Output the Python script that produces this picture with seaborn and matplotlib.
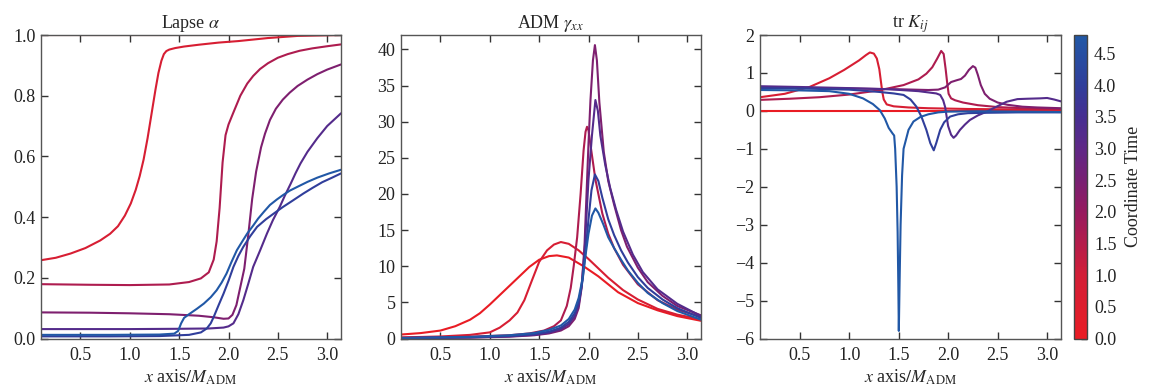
import numpy as np
import pandas as pd
import matplotlib
matplotlib.use("Agg")
import matplotlib.pyplot as plt
from matplotlib.colors import LinearSegmentedColormap, Normalize
import seaborn as sns

# ---------------- data ----------------
times = [0.0, 0.8, 1.6, 2.4, 3.2, 4.0, 4.8]

# Lapse alpha
lapse_x = [
    [0.1, 1.0, 2.0, 3.14],
    [0.1, 0.25, 0.4, 0.55, 0.7, 0.8, 0.88, 0.95, 1.01, 1.06, 1.1, 1.14, 1.18, 1.22, 1.26, 1.29, 1.32, 1.345, 1.37, 1.4, 1.46, 1.55, 1.7, 1.9, 2.1, 2.4, 2.7, 3.14],
    [0.1, 0.6, 1.0, 1.4, 1.6, 1.72, 1.8, 1.85, 1.88, 1.91, 1.94, 1.97, 2.0, 2.05, 2.12, 2.19, 2.25, 2.32, 2.4, 2.5, 2.6, 2.72, 2.85, 3.0, 3.14],
    [0.1, 0.6, 1.0, 1.4, 1.7, 1.85, 1.95, 2.0, 2.04, 2.08, 2.12, 2.16, 2.2, 2.24, 2.28, 2.33, 2.37, 2.42, 2.48, 2.55, 2.62, 2.7, 2.8, 2.9, 3.0, 3.14],
    [0.1, 0.6, 1.0, 1.5, 1.8, 1.95, 2.0, 2.05, 2.1, 2.15, 2.2, 2.25, 2.32, 2.39, 2.45, 2.52, 2.57, 2.63, 2.68, 2.73, 2.8, 2.9, 3.0, 3.14],
    [0.1, 0.8, 1.3, 1.6, 1.72, 1.78, 1.82, 1.85, 1.9, 1.95, 2.0, 2.05, 2.1, 2.15, 2.22, 2.29, 2.38, 2.46, 2.55, 2.63, 2.76, 2.85, 2.95, 3.05, 3.14],
    [0.1, 0.8, 1.3, 1.45, 1.49, 1.52, 1.55, 1.6, 1.68, 1.75, 1.82, 1.88, 1.93, 1.98, 2.03, 2.085, 2.14, 2.19, 2.25, 2.3, 2.36, 2.42, 2.49, 2.55, 2.62, 2.7, 2.8, 2.9, 3.02, 3.14],
]
lapse_y = [
    [1.0, 1.0, 1.0, 1.0],
    [0.258, 0.266, 0.28, 0.298, 0.323, 0.345, 0.37, 0.405, 0.445, 0.49, 0.535, 0.59, 0.66, 0.74, 0.82, 0.875, 0.915, 0.937, 0.947, 0.952, 0.957, 0.962, 0.968, 0.975, 0.98, 0.99, 0.997, 1.0],
    [0.179, 0.177, 0.176, 0.178, 0.186, 0.198, 0.218, 0.26, 0.32, 0.43, 0.58, 0.67, 0.705, 0.745, 0.80, 0.84, 0.865, 0.888, 0.907, 0.925, 0.937, 0.948, 0.956, 0.963, 0.969],
    [0.086, 0.085, 0.083, 0.08, 0.075, 0.07, 0.065, 0.066, 0.078, 0.11, 0.17, 0.23, 0.34, 0.46, 0.55, 0.63, 0.675, 0.72, 0.757, 0.787, 0.81, 0.832, 0.853, 0.871, 0.886, 0.903],
    [0.031, 0.031, 0.031, 0.032, 0.033, 0.036, 0.04, 0.05, 0.08, 0.126, 0.18, 0.236, 0.29, 0.346, 0.39, 0.434, 0.47, 0.51, 0.545, 0.577, 0.615, 0.66, 0.7, 0.742],
    [0.007, 0.007, 0.008, 0.012, 0.02, 0.033, 0.05, 0.071, 0.11, 0.148, 0.19, 0.236, 0.272, 0.302, 0.337, 0.368, 0.393, 0.412, 0.433, 0.45, 0.478, 0.496, 0.515, 0.53, 0.544],
    [0.012, 0.012, 0.013, 0.016, 0.025, 0.05, 0.068, 0.08, 0.098, 0.115, 0.136, 0.159, 0.184, 0.214, 0.252, 0.291, 0.32, 0.346, 0.372, 0.395, 0.418, 0.44, 0.458, 0.472, 0.487, 0.5, 0.516, 0.53, 0.544, 0.556],
]

# ADM gamma_xx
gxx_x = [
    [0.1, 0.3, 0.5, 0.65, 0.8, 0.9, 1.0, 1.1, 1.2, 1.3, 1.4, 1.5, 1.6, 1.68, 1.8, 1.95, 2.1, 2.3, 2.5, 2.7, 2.9, 3.14],
    [0.1, 0.5, 0.8, 1.0, 1.1, 1.2, 1.28, 1.35, 1.42, 1.5, 1.58, 1.65, 1.72, 1.8, 1.9, 2.0, 2.1, 2.2, 2.35, 2.5, 2.7, 2.9, 3.14],
    [0.1, 0.8, 1.2, 1.4, 1.55, 1.65, 1.72, 1.78, 1.82, 1.85, 1.885, 1.92, 1.95, 1.97, 1.985, 2.0, 2.02, 2.07, 2.14, 2.2, 2.26, 2.35, 2.5, 2.7, 2.9, 3.14],
    [0.1, 0.8, 1.2, 1.45, 1.6, 1.72, 1.8, 1.86, 1.9, 1.93, 1.96, 1.98, 2.0, 2.02, 2.045, 2.065, 2.085, 2.11, 2.155, 2.2, 2.26, 2.33, 2.39, 2.5, 2.6, 2.75, 2.9, 3.14],
    [0.1, 0.8, 1.2, 1.45, 1.6, 1.72, 1.8, 1.86, 1.9, 1.93, 1.96, 1.98, 2.0, 2.035, 2.07, 2.095, 2.12, 2.17, 2.22, 2.28, 2.35, 2.45, 2.55, 2.7, 2.9, 3.14],
    [0.1, 0.8, 1.2, 1.45, 1.6, 1.72, 1.8, 1.86, 1.9, 1.94, 1.97, 2.0, 2.03, 2.065, 2.1, 2.14, 2.2, 2.26, 2.33, 2.4, 2.5, 2.6, 2.75, 2.9, 3.14],
    [0.1, 0.8, 1.2, 1.45, 1.6, 1.72, 1.8, 1.86, 1.9, 1.94, 1.97, 2.0, 2.035, 2.07, 2.1, 2.15, 2.2, 2.26, 2.33, 2.4, 2.5, 2.6, 2.75, 2.9, 3.14],
]
gxx_y = [
    [0.55, 0.75, 1.1, 1.7, 2.6, 3.5, 4.7, 6.0, 7.3, 8.6, 9.9, 10.9, 11.4, 11.5, 11.2, 10.0, 8.6, 6.4, 4.9, 3.9, 3.1, 2.45],
    [0.15, 0.28, 0.5, 0.85, 1.5, 2.5, 3.6, 5.3, 7.8, 10.6, 12.2, 13.0, 13.35, 13.1, 12.2, 11.0, 9.7, 8.4, 6.7, 5.4, 4.1, 3.3, 2.65],
    [0.1, 0.25, 0.45, 0.7, 1.1, 1.7, 2.5, 4.5, 7.0, 10.0, 14.0, 20.0, 26.0, 28.6, 29.3, 28.8, 26.8, 22.0, 17.3, 14.5, 12.5, 10.2, 7.5, 5.3, 4.0, 3.0],
    [0.05, 0.12, 0.25, 0.45, 0.7, 1.1, 1.7, 2.7, 4.2, 7.0, 13.0, 20.0, 27.0, 33.0, 38.5, 40.6, 38.5, 32.7, 25.8, 21.8, 18.5, 15.0, 12.7, 9.8, 7.8, 5.9, 4.5, 3.2],
    [0.05, 0.15, 0.3, 0.5, 0.8, 1.3, 2.0, 3.1, 4.6, 7.2, 12.0, 17.0, 22.0, 28.1, 33.0, 31.5, 28.1, 24.0, 20.8, 17.8, 14.8, 11.6, 9.2, 6.8, 4.8, 3.1],
    [0.06, 0.18, 0.35, 0.6, 0.95, 1.5, 2.3, 3.5, 5.0, 8.0, 12.0, 16.5, 20.5, 22.7, 21.8, 19.5, 16.5, 14.3, 12.2, 10.5, 8.5, 7.0, 5.4, 4.2, 2.85],
    [0.08, 0.22, 0.45, 0.75, 1.2, 1.8, 2.7, 4.0, 5.6, 8.3, 11.5, 14.5, 17.0, 18.0, 17.4, 15.8, 14.0, 12.5, 10.9, 9.4, 7.7, 6.3, 4.9, 3.8, 2.6],
]

# tr K_ij
trk_x = [
    [0.1, 1.0, 2.0, 3.14],
    [0.1, 0.35, 0.6, 0.8, 0.95, 1.1, 1.17, 1.21, 1.25, 1.28, 1.305, 1.32, 1.335, 1.35, 1.38, 1.45, 1.6, 1.8, 2.2, 2.6, 3.14],
    [0.1, 0.4, 0.7, 1.0, 1.3, 1.55, 1.7, 1.78, 1.84, 1.89, 1.93, 1.955, 1.975, 1.99, 2.005, 2.03, 2.07, 2.15, 2.3, 2.5, 2.75, 3.14],
    [0.1, 0.5, 1.0, 1.5, 1.8, 1.9, 1.97, 2.03, 2.09, 2.13, 2.17, 2.21, 2.25, 2.275, 2.3, 2.33, 2.37, 2.42, 2.5, 2.6, 2.75, 2.9, 3.14],
    [0.1, 0.5, 1.0, 1.4, 1.7, 1.82, 1.88, 1.92, 1.95, 1.97, 2.0, 2.03, 2.055, 2.08, 2.12, 2.17, 2.22, 2.3, 2.39, 2.48, 2.59, 2.7, 2.8, 2.93, 3.0, 3.07, 3.14],
    [0.1, 0.5, 1.0, 1.3, 1.45, 1.55, 1.62, 1.68, 1.73, 1.78, 1.82, 1.855, 1.88, 1.92, 1.96, 2.02, 2.1, 2.2, 2.4, 2.7, 3.14],
    [0.1, 0.5, 0.8, 1.0, 1.14, 1.24, 1.31, 1.36, 1.4, 1.44, 1.455, 1.465, 1.48, 1.49, 1.497, 1.502, 1.51, 1.52, 1.535, 1.55, 1.565, 1.6, 1.65, 1.72, 1.8, 1.9, 2.0, 2.3, 2.7, 3.14],
]
trk_y = [
    [0.0, 0.0, 0.0, 0.0],
    [0.36, 0.45, 0.63, 0.86, 1.08, 1.33, 1.47, 1.54, 1.51, 1.38, 1.1, 0.8, 0.5, 0.3, 0.17, 0.12, 0.09, 0.07, 0.05, 0.04, 0.03],
    [0.29, 0.32, 0.36, 0.43, 0.54, 0.68, 0.83, 0.98, 1.15, 1.38, 1.58, 1.5, 1.1, 0.75, 0.45, 0.33, 0.28, 0.22, 0.15, 0.1, 0.07, 0.05],
    [0.62, 0.61, 0.59, 0.57, 0.55, 0.56, 0.62, 0.76, 0.81, 0.84, 0.93, 1.08, 1.18, 1.14, 0.95, 0.68, 0.45, 0.32, 0.22, 0.16, 0.11, 0.09, 0.07],
    [0.65, 0.63, 0.6, 0.57, 0.52, 0.48, 0.46, 0.42, 0.28, 0.1, -0.4, -0.63, -0.71, -0.65, -0.5, -0.36, -0.24, -0.12, -0.02, 0.1, 0.24, 0.31, 0.32, 0.33, 0.34, 0.3, 0.25],
    [0.6, 0.59, 0.56, 0.5, 0.46, 0.42, 0.3, 0.11, -0.15, -0.5, -0.85, -1.04, -0.85, -0.5, -0.3, -0.15, -0.09, -0.06, -0.05, -0.04, -0.04],
    [0.55, 0.54, 0.52, 0.45, 0.33, 0.18, 0.02, -0.2, -0.45, -0.6, -0.65, -1.0, -2.0, -3.2, -4.6, -5.8, -4.5, -3.0, -1.7, -1.0, -0.85, -0.5, -0.28, -0.16, -0.09, -0.04, -0.02, -0.01, -0.02, -0.03],
]

titles = [r"Lapse $\alpha$", r"ADM $\gamma_{xx}$", r"tr $K_{ij}$"]
xlabel = r"$x$ axis$/M_{\mathrm{ADM}}$"
cbar_label = "Coordinate Time"
xticks = [0.5, 1.0, 1.5, 2.0, 2.5, 3.0]
yticks = [[0.0, 0.2, 0.4, 0.6, 0.8, 1.0],
          [0, 5, 10, 15, 20, 25, 30, 35, 40],
          [-6, -5, -4, -3, -2, -1, 0, 1, 2]]
cbar_ticks = [0.0, 0.5, 1.0, 1.5, 2.0, 2.5, 3.0, 3.5, 4.0, 4.5]
ylims = [(0.0, 1.0), (0.0, 42.0), (-6.0, 2.0)]
xlim = (0.1, 3.14)
tmax = 4.79

# ---------------- style ----------------
sns.set_theme(style="ticks")
FS = 13
plt.rcParams.update({
    "font.family": ["Liberation Serif", "DejaVu Serif"],
    "mathtext.fontset": "stix",
    "font.size": FS,
    "xtick.direction": "in",
    "ytick.direction": "in",
    "xtick.top": True,
    "ytick.right": True,
    "xtick.major.size": 5,
    "ytick.major.size": 5,
    "xtick.major.width": 1.0,
    "ytick.major.width": 1.0,
    "xtick.color": "#333333",
    "ytick.color": "#333333",
    "xtick.labelcolor": "#222222",
    "ytick.labelcolor": "#222222",
    "xtick.labelsize": FS,
    "ytick.labelsize": FS,
    "axes.edgecolor": "#555555",
    "axes.linewidth": 1.0,
    "lines.solid_joinstyle": "round",
})

cmap = LinearSegmentedColormap.from_list(
    "rb",
    [(0.0, (233/255, 28/255, 36/255)),
     (1.0/tmax, (210/255, 30/255, 55/255)),
     (2.0/tmax, (150/255, 26/255, 95/255)),
     (2.5/tmax, (120/255, 32/255, 115/255)),
     (3.0/tmax, (95/255, 40/255, 135/255)),
     (3.5/tmax, (70/255, 46/255, 145/255)),
     (4.0/tmax, (48/255, 62/255, 155/255)),
     (1.0, (33/255, 88/255, 166/255))])
norm = Normalize(vmin=0.0, vmax=tmax)

fig = plt.figure(figsize=(11.51, 3.91), dpi=100)
W, H = 1151, 391
def rect(l, r, t, b):
    return [l / W, 1 - b / H, (r - l) / W, (b - t) / H]

axes = [fig.add_axes(rect(41, 341, 35, 338.5)),
        fig.add_axes(rect(401, 701, 35, 338.5)),
        fig.add_axes(rect(760, 1061, 35, 338.5))]
cax = fig.add_axes(rect(1074, 1087, 35, 338.5))

panels = [(lapse_x, lapse_y), (gxx_x, gxx_y), (trk_x, trk_y)]
for i, (ax, (xs, ys)) in enumerate(zip(axes, panels)):
    rows = []
    for t, xx, yy in zip(times, xs, ys):
        for a, b in zip(xx, yy):
            rows.append((a, b, t))
    df = pd.DataFrame(rows, columns=["x", "y", "t"])
    sns.lineplot(data=df, x="x", y="y", hue="t", palette=cmap, hue_norm=norm,
                 estimator=None, sort=False, legend=False, lw=1.5, ax=ax)
    ax.set_xlim(*xlim)
    ax.set_ylim(*ylims[i])
    ax.set_xticks(xticks)
    ax.set_xticklabels([f"{v:.1f}" for v in xticks])
    ax.set_yticks(yticks[i])
    if i == 0:
        ax.set_yticklabels([f"{v:.1f}" for v in yticks[i]])
    else:
        ax.set_yticklabels([f"{v:d}".replace("-", "\u2212") for v in yticks[i]])
    ax.set_title(titles[i], fontsize=FS, pad=5)
    ax.set_xlabel(xlabel, fontsize=FS, labelpad=3)
    ax.set_ylabel("")
    ax.tick_params(axis="x", which="major", pad=6)
    ax.tick_params(axis="y", which="major", pad=4)

sm = plt.cm.ScalarMappable(cmap=cmap, norm=norm)
cb = fig.colorbar(sm, cax=cax)
cb.set_ticks(cbar_ticks)
cb.set_ticklabels([f"{v:.1f}" for v in cbar_ticks])
cb.ax.tick_params(direction="in", length=4, width=1, color="#222222", labelsize=FS, right=True, left=False, pad=5)
cb.outline.set_edgecolor("#444444")
cb.outline.set_linewidth(1.0)
cb.set_label(cbar_label, fontsize=FS, labelpad=6)

fig.savefig("out.png", dpi=100)
